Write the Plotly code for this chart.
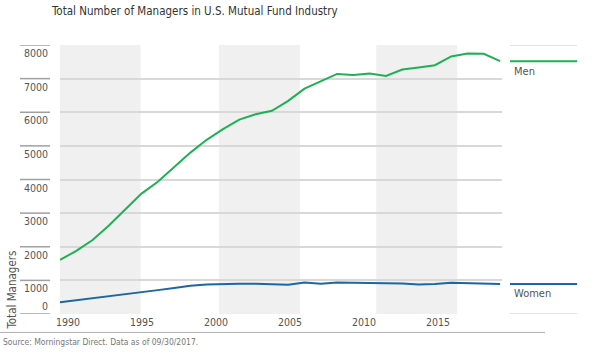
import plotly.graph_objects as go

years = list(range(1990, 2018))
men = [1606, 1880, 2200, 2630, 3110, 3580, 3935, 4380, 4800, 5180,
       5500, 5780, 5940, 6045, 6340, 6700, 6920, 7140, 7110, 7150,
       7080, 7270, 7330, 7400, 7660, 7750, 7740, 7520]
women = [346, 410, 470, 535, 600, 660, 710, 770, 840, 880,
         900, 900, 900, 890, 870, 935, 900, 935, 930, 925,
         920, 910, 880, 890, 930, 925, 920, 895]
y_ticks = [0, 1000, 2000, 3000, 4000, 5000, 6000, 7000, 8000]
x_ticks = [1990, 1995, 2000, 2005, 2010, 2015]
bands = [(1990, 1994.95), (1999.75, 2004.72), (2009.4, 2014.37)]

GREEN = "#1db153"
BLUE = "#1b67a3"
FONT = "DejaVu Sans Condensed, Roboto, sans-serif"

fig = go.Figure()
fig.add_trace(go.Scatter(x=years, y=men, mode="lines", line=dict(color=GREEN, width=2), hoverinfo="skip"))
fig.add_trace(go.Scatter(x=years, y=women, mode="lines", line=dict(color=BLUE, width=2), hoverinfo="skip"))
fig.add_trace(go.Scatter(x=[x_ticks[0]], y=[0], xaxis="x2", mode="markers", marker=dict(opacity=0), hoverinfo="skip"))

shapes = []
for a, b in bands:
    shapes.append(dict(type="rect", xref="x", yref="paper", x0=a, x1=b, y0=0, y1=1,
                       fillcolor="#f0f0f0", line=dict(width=0), layer="below"))
for v in y_ticks:
    shapes.append(dict(type="line", xref="paper", yref="y", x0=-0.0905, x1=-0.0226, y0=v, y1=v,
                       line=dict(color="#a0a0a0", width=1.5)))
for v in (y_ticks[0], y_ticks[-1]):
    shapes.append(dict(type="line", xref="paper", yref="y", x0=1.018, x1=1.17, y0=v, y1=v,
                       line=dict(color="#d8d8d8", width=1.5)))
shapes.append(dict(type="line", xref="paper", yref="y", x0=1.018, x1=1.17, y0=men[-1], y1=men[-1],
                   line=dict(color=GREEN, width=2)))
shapes.append(dict(type="line", xref="paper", yref="y", x0=1.018, x1=1.17, y0=women[-1], y1=women[-1],
                   line=dict(color=BLUE, width=2)))
shapes.append(dict(type="line", xref="paper", yref="paper", x0=-60/442, x1=485/442, y0=-18.5/270, y1=-18.5/270,
                   line=dict(color="#b0b0b0", width=1)))

annotations = []
for v in y_ticks:
    annotations.append(dict(x=-0.0215, xref="paper", y=v, yref="y", text=str(v), showarrow=False,
                            xanchor="right", yanchor="middle", yshift=(-8 if v > 0 else 8),
                            font=dict(family=FONT, size=10.5, color="#555555")))
annotations += [
    dict(x=1.022, xref="paper", y=men[-1], yref="y", text="Men", showarrow=False, xanchor="left",
         yanchor="middle", yshift=-10, font=dict(family=FONT, size=11, color="#555555")),
    dict(x=1.022, xref="paper", y=women[-1], yref="y", text="Women", showarrow=False, xanchor="left",
         yanchor="middle", yshift=-10, font=dict(family=FONT, size=11, color="#555555")),
    dict(x=(12 - 60) / 442, xref="paper", y=(314.5 - 291) / 270, yref="paper", text="Total Managers",
         showarrow=False, textangle=-90, xanchor="center", yanchor="middle",
         font=dict(family=FONT, size=11.5, color="#555555")),
    dict(x=(1 - 60) / 442, xref="paper", y=(314.5 - 343) / 270, yref="paper",
         text="Source: Morningstar Direct. Data as of 09/30/2017.",
         showarrow=False, xanchor="left", yanchor="middle", font=dict(family=FONT, size=8.5, color="#777777")),
]

fig.update_layout(
    width=600, height=354,
    margin=dict(l=60, r=98, t=44.5, b=39.5),
    paper_bgcolor="white", plot_bgcolor="white",
    showlegend=False,
    title=dict(text="Total Number of Managers in U.S. Mutual Fund Industry", x=52 / 600, xref="container",
               xanchor="left", y=1 - 11 / 354, yref="container", yanchor="middle",
               font=dict(family=FONT, size=11.5, color="#333333")),
    xaxis=dict(range=[1990, 1990 + 442 / 16.3], showgrid=False, showticklabels=False, zeroline=False,
               showline=False, ticks=""),
    xaxis2=dict(overlaying="x", anchor="y", side="bottom", range=[1989.46, 1989.46 + 442 / 14.8],
                tickvals=x_ticks, ticktext=[str(t) for t in x_ticks], showgrid=False, zeroline=False,
                showline=False, ticks="", tickfont=dict(family=FONT, size=10.5, color="#555555")),
    yaxis=dict(range=[0, 8000], tickvals=y_ticks, showticklabels=False, showgrid=True,
               gridcolor="#d8d8d8", gridwidth=1.5, zeroline=False, showline=False, ticks=""),
    shapes=shapes,
    annotations=annotations,
)
fig.write_html("out.html")
